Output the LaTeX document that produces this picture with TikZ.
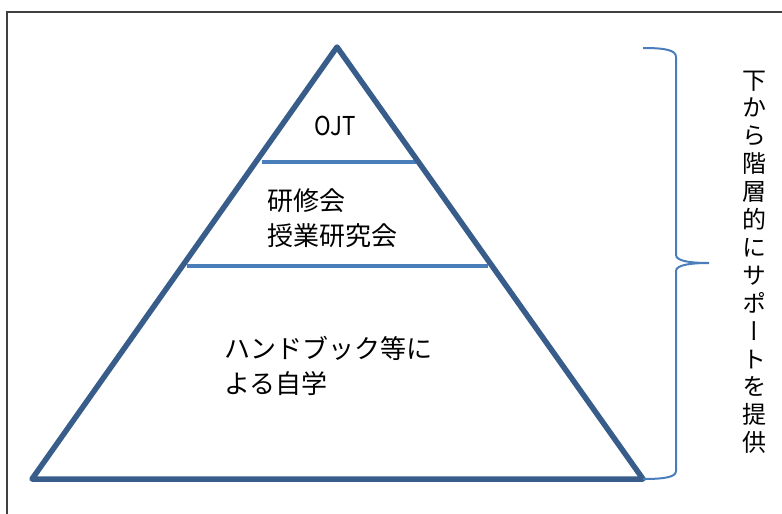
\documentclass[tikz,border=0pt]{standalone}
\usepackage{fontspec}
\newfontfamily\jp{Noto Sans CJK JP}
\newfontfamily\vjp[RawFeature=+vert]{Noto Sans CJK JP}
\definecolor{pyr}{HTML}{385D8A}
\definecolor{lay}{HTML}{4A7EBB}
\definecolor{frm}{HTML}{404040}
\begin{document}
\begin{tikzpicture}[x=1pt,y=-1pt,
  pyrline/.style={draw=pyr,line width=5.5pt,line join=round},
  layline/.style={draw=lay,line width=4pt},
  braceline/.style={draw=lay,line width=2pt},
  frameline/.style={draw=frm,line width=2pt},
  lbl/.style={inner sep=0pt,font=\jp\fontsize{26}{34}\selectfont,anchor=base west},
  vchar/.style={inner sep=0pt,font=\vjp\fontsize{24}{24}\selectfont,anchor=base}]
\useasboundingbox (0,0) rectangle (782,514);
% frame
\draw[frameline] (7,514) -- (7,12) -- (782,12);
% pyramid
\coordinate (apex) at (337,47);
\coordinate (bl) at (32,479);
\coordinate (br) at (643,479);
\coordinate (l1a) at (262,162);
\coordinate (l1b) at (416,162);
\coordinate (l2a) at (187,266);
\coordinate (l2b) at (488,266);
\draw[layline] (l1a) -- (l1b);
\draw[layline] (l2a) -- (l2b);
\draw[pyrline] (apex) -- (bl) -- (br) -- cycle;
% labels
\node[lbl,anchor=base] (ojt) at (335,135) {\scalebox{0.86}[1]{OJT}};
\node[lbl] (k1) at (267,210) {研修会};
\node[lbl] (k2) at (267,245) {授業研究会};
\node[lbl] (h1) at (224,358) {ハンドブック等に};
\node[lbl] (h2) at (224,393) {よる自学};
% brace
\coordinate (bt) at (643,48);
\coordinate (bb) at (643,479);
\coordinate (tip) at (709,263);
\draw[braceline] (bt) .. controls (665,48) and (676,50) .. (676,57)
  -- (676,255) .. controls (676,261) and (690,263) .. (tip)
  .. controls (690,263) and (676,265) .. (676,271)
  -- (676,471) .. controls (676,477) and (665,479) .. (bb);
% vertical text
\foreach \c [count=\i] in {下,か,ら,階,層,的,に,サ,ポ,ー,ト,を,提,供}{
  \node[vchar] (v\i) at (754,{80+27.9*(\i-1)+9}) {\c};
}
\end{tikzpicture}
\end{document}
